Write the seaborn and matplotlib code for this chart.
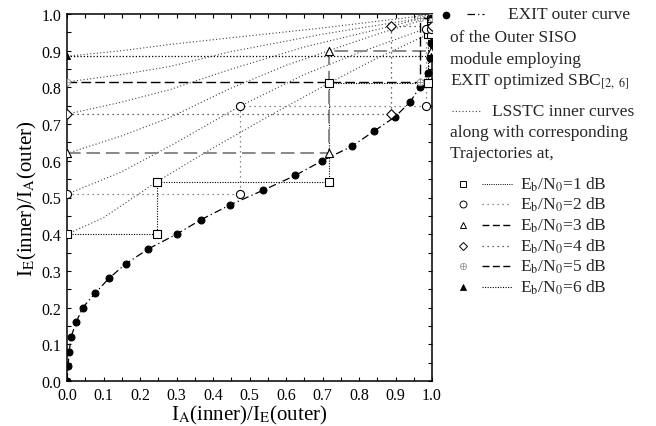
import numpy as np
import pandas as pd
import matplotlib
matplotlib.use("Agg")
import matplotlib.pyplot as plt
import seaborn as sns
from matplotlib.lines import Line2D
from matplotlib.ticker import MultipleLocator, FormatStrFormatter

# ---------------- data ----------------
outer_x = [0.000, 0.003, 0.006, 0.011, 0.025, 0.043, 0.078, 0.115, 0.162, 0.223,
           0.300, 0.368, 0.447, 0.538, 0.625, 0.699, 0.781, 0.840, 0.899, 0.940,
           0.966, 0.988, 0.995, 0.997, 0.999, 1.000]
outer_y = [0.00, 0.04, 0.08, 0.12, 0.16, 0.20, 0.24, 0.28, 0.32, 0.36,
           0.40, 0.44, 0.48, 0.52, 0.56, 0.60, 0.64, 0.68, 0.72, 0.76,
           0.80, 0.84, 0.88, 0.92, 0.96, 1.00]

# LSSTC inner EXIT curves
inner1_x = [0.000, 0.100, 0.246, 0.400, 0.550, 0.717, 0.850, 0.990, 1.000]
inner1_y = [0.400, 0.445, 0.543, 0.635, 0.720, 0.811, 0.880, 0.945, 0.955]
inner2_x = [0.000, 0.150, 0.300, 0.474, 0.650, 0.800, 0.983, 1.000]
inner2_y = [0.509, 0.570, 0.650, 0.749, 0.835, 0.895, 0.960, 0.968]
inner3_x = [0.000, 0.150, 0.282, 0.447, 0.600, 0.717, 0.850, 0.995, 1.000]
inner3_y = [0.620, 0.668, 0.718, 0.797, 0.860, 0.900, 0.945, 0.990, 0.993]
inner4_x = [0.000, 0.150, 0.282, 0.447, 0.650, 0.888, 1.000]
inner4_y = [0.727, 0.760, 0.794, 0.849, 0.910, 0.967, 0.995]
inner5_x = [0.000, 0.150, 0.282, 0.447, 0.700, 0.967, 1.000]
inner5_y = [0.815, 0.835, 0.857, 0.897, 0.945, 0.988, 0.997]
inner6_x = [0.000, 0.150, 0.282, 0.447, 0.700, 0.997]
inner6_y = [0.885, 0.900, 0.917, 0.935, 0.962, 0.998]

# decoding trajectories
traj1_x = [0.000, 0.246, 0.246, 0.717, 0.717, 0.990, 0.990, 0.998, 0.998]
traj1_y = [0.400, 0.400, 0.543, 0.543, 0.811, 0.811, 0.945, 0.945, 0.985]
traj2_x = [0.000, 0.474, 0.474, 0.983, 0.983, 0.997, 0.997]
traj2_y = [0.509, 0.509, 0.749, 0.749, 0.960, 0.960, 0.990]
traj3_x = [0.000, 0.717, 0.717, 0.996, 0.996]
traj3_y = [0.620, 0.620, 0.900, 0.900, 0.990]
traj4_x = [0.000, 0.888, 0.888, 0.999, 0.999]
traj4_y = [0.727, 0.727, 0.967, 0.967, 0.995]
traj5_x = [0.000, 0.967, 0.967, 0.999, 0.999]
traj5_y = [0.815, 0.815, 0.988, 0.988, 1.000]
traj6_x = [0.000, 0.997, 0.997]
traj6_y = [0.885, 0.885, 0.998]

snr_labels = ["1", "2", "3", "4", "5", "6"]
ticks = [0.0, 0.1, 0.2, 0.3, 0.4, 0.5, 0.6, 0.7, 0.8, 0.9, 1.0]

# ---------------- style ----------------
sns.set_theme(style="ticks")
plt.rcParams["font.family"] = ["Liberation Serif", "DejaVu Serif"]
plt.rcParams["mathtext.fontset"] = "stix"

fig = plt.figure(figsize=(6.56, 4.27), dpi=100)
ax = fig.add_axes([67 / 656, 45 / 427, 365 / 656, 367 / 427])

inner_style = dict(color="#444444", lw=0.8, linestyle=(0, (1, 2)))
inners = [(inner1_x, inner1_y), (inner2_x, inner2_y), (inner3_x, inner3_y),
          (inner4_x, inner4_y), (inner5_x, inner5_y), (inner6_x, inner6_y)]
for ix, iy in inners:
    sns.lineplot(x=ix, y=iy, sort=False, estimator=None, ax=ax, **inner_style)

traj_styles = [
    dict(color="black", lw=0.8, linestyle=(0, (1, 1.3))),
    dict(color="#666666", lw=0.9, linestyle=(0, (1, 3))),
    dict(color="#888888", lw=1.4, linestyle=(0, (7, 3))),
    dict(color="#333333", lw=0.9, linestyle=(0, (1, 3))),
    dict(color="black", lw=1.0, linestyle=(0, (7, 3))),
    dict(color="black", lw=0.9, linestyle=(0, (1, 1.6))),
]
trajs = [(traj1_x, traj1_y), (traj2_x, traj2_y), (traj3_x, traj3_y),
         (traj4_x, traj4_y), (traj5_x, traj5_y), (traj6_x, traj6_y)]
for (tx, ty), st in zip(trajs, traj_styles):
    sns.lineplot(x=tx, y=ty, sort=False, estimator=None, ax=ax, **st)

# outer curve
sns.lineplot(x=outer_x, y=outer_y, sort=False, estimator=None, ax=ax,
             color="black", lw=0.9, linestyle=(0, (6, 2.5, 1, 2.5)),
             marker="o", markersize=5, markeredgecolor="black",
             markerfacecolor="black", zorder=4)

# trajectory markers
mk = [
    dict(marker="s", s=32, facecolors="white", edgecolors="black", linewidths=0.8),
    dict(marker="o", s=34, facecolors="white", edgecolors="black", linewidths=0.8),
    dict(marker="^", s=34, facecolors="white", edgecolors="black", linewidths=0.8),
    dict(marker="D", s=24, facecolors="white", edgecolors="black", linewidths=0.8),
    dict(marker="o", s=22, facecolors="white", edgecolors="#999999", linewidths=0.7),
    dict(marker="^", s=20, facecolors="black", edgecolors="black", linewidths=0.6),
]
for (tx, ty), m in zip(trajs, mk):
    sns.scatterplot(x=tx, y=ty, ax=ax, zorder=5, **m)
sns.scatterplot(x=traj5_x, y=traj5_y, ax=ax, marker="+", s=22, color="#999999",
                linewidth=0.7, zorder=6)

ax.set_xlim(0, 1)
ax.set_ylim(0, 1)
ax.set_xticks(ticks)
ax.set_yticks(ticks)
ax.xaxis.set_minor_locator(MultipleLocator(0.05))
ax.yaxis.set_minor_locator(MultipleLocator(0.05))
ax.xaxis.set_major_formatter(FormatStrFormatter("%.1f"))
ax.yaxis.set_major_formatter(FormatStrFormatter("%.1f"))
ax.tick_params(which="both", direction="in", top=True, right=True, length=3,
               width=0.8, color="black", labelsize=11.5, labelcolor="black", pad=4)
for sp in ax.spines.values():
    sp.set_color("black")
    sp.set_linewidth(1.1)
    sp.set_visible(True)

ax.set_xlabel(r"I$_\mathrm{A}$(inner)/I$_\mathrm{E}$(outer)", fontsize=15,
              color="black", labelpad=0)
ax.set_ylabel(r"I$_\mathrm{E}$(inner)/I$_\mathrm{A}$(outer)", fontsize=15,
              color="black", labelpad=2)

# ---------------- custom legend (outside, right) ----------------
W, H = 656, 427


def fx(px):
    return px / W


def fy(py):
    return 1 - py / H


fs = 12.5
# outer curve entry
fig.add_artist(Line2D([fx(446)], [fy(16)], marker="o", markersize=4.5,
                      color="black", linestyle="none"))
fig.add_artist(Line2D([fx(467), fx(484)], [fy(15), fy(15)], color="black",
                      lw=0.9, linestyle=(0, (6, 2.5, 1, 2.5))))
fig.text(fx(508), fy(15), "EXIT outer curve", fontsize=fs, va="center", ha="left")
fig.text(fx(450), fy(38), "of the Outer SISO", fontsize=fs, va="center", ha="left")
fig.text(fx(450), fy(60), "module employing", fontsize=fs, va="center", ha="left")
fig.text(fx(450), fy(81), r"EXIT optimized SBC$_\mathrm{[2,\ 6]}$", fontsize=fs,
         va="center", ha="left")
# inner curve entry
fig.add_artist(Line2D([fx(452), fx(480)], [fy(112), fy(112)], **inner_style))
fig.text(fx(492), fy(112), "LSSTC inner curves", fontsize=fs, va="center", ha="left")
fig.text(fx(450), fy(133), "along with corresponding", fontsize=fs, va="center", ha="left")
fig.text(fx(450), fy(154), "Trajectories at,", fontsize=fs, va="center", ha="left")

leg_marker = [
    dict(marker="s", markersize=5, markerfacecolor="white", markeredgecolor="black", markeredgewidth=0.7),
    dict(marker="o", markersize=5, markerfacecolor="white", markeredgecolor="black", markeredgewidth=0.7),
    dict(marker="^", markersize=5, markerfacecolor="white", markeredgecolor="black", markeredgewidth=0.7),
    dict(marker="D", markersize=4.5, markerfacecolor="white", markeredgecolor="black", markeredgewidth=0.7),
    dict(marker="o", markersize=4.5, markerfacecolor="white", markeredgecolor="#999999", markeredgewidth=0.6),
    dict(marker="^", markersize=4.5, markerfacecolor="black", markeredgecolor="black", markeredgewidth=0.6),
]
leg_line = [
    dict(color="black", lw=0.7, linestyle=(0, (1, 1.3))),
    dict(color="#666666", lw=0.9, linestyle=(0, (1, 3))),
    dict(color="black", lw=1.0, linestyle=(0, (5, 2.5))),
    dict(color="#333333", lw=0.9, linestyle=(0, (1, 3))),
    dict(color="black", lw=1.0, linestyle=(0, (5, 2.5))),
    dict(color="black", lw=0.8, linestyle=(0, (1, 1.3))),
]
leg_y = [185, 205, 226, 247, 267, 288]
for i, lab in enumerate(snr_labels):
    yy = leg_y[i]
    fig.add_artist(Line2D([fx(463)], [fy(yy)], linestyle="none", **leg_marker[i]))
    if i == 4:
        fig.add_artist(Line2D([fx(463)], [fy(yy)], linestyle="none", marker="+",
                              markersize=4.5, color="#999999", markeredgewidth=0.6))
    fig.add_artist(Line2D([fx(482), fx(512)], [fy(yy), fy(yy)], **leg_line[i]))
    fig.text(fx(520), fy(yy), r"E$_\mathrm{b}$/N$_\mathrm{0}$=" + lab + " dB",
             fontsize=fs, va="center", ha="left")

fig.savefig("out.png", dpi=100)
